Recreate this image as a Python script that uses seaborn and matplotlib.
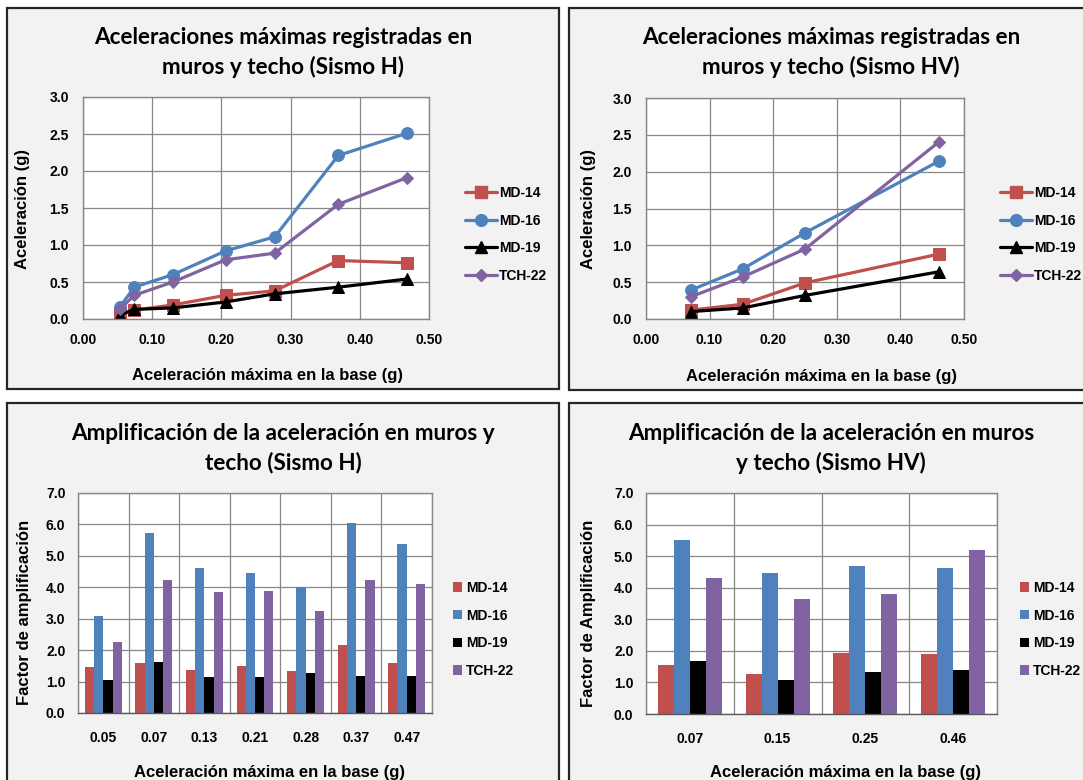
import numpy as np
import pandas as pd
import matplotlib
matplotlib.use('Agg')
import matplotlib.pyplot as plt
from matplotlib.patches import Rectangle
from matplotlib.lines import Line2D
from matplotlib.ticker import FormatStrFormatter, MultipleLocator
import seaborn as sns

# ---------------- data ----------------
series = ['MD-14', 'MD-16', 'MD-19', 'TCH-22']

base_h = [0.053, 0.074, 0.130, 0.206, 0.277, 0.369, 0.468]
acc_h_md14 = [0.07, 0.12, 0.19, 0.32, 0.38, 0.79, 0.76]
acc_h_md16 = [0.16, 0.43, 0.60, 0.92, 1.11, 2.21, 2.51]
acc_h_md19 = [0.05, 0.13, 0.15, 0.23, 0.34, 0.43, 0.54]
acc_h_tch22 = [0.13, 0.32, 0.50, 0.80, 0.89, 1.55, 1.91]

base_hv = [0.070, 0.152, 0.250, 0.460]
acc_hv_md14 = [0.12, 0.20, 0.49, 0.88]
acc_hv_md16 = [0.39, 0.68, 1.17, 2.14]
acc_hv_md19 = [0.10, 0.15, 0.32, 0.64]
acc_hv_tch22 = [0.30, 0.57, 0.95, 2.40]

cats_h = ['0.05', '0.07', '0.13', '0.21', '0.28', '0.37', '0.47']
amp_h_md14 = [1.45, 1.60, 1.37, 1.50, 1.33, 2.16, 1.60]
amp_h_md16 = [3.08, 5.72, 4.61, 4.47, 4.01, 6.03, 5.39]
amp_h_md19 = [1.06, 1.63, 1.13, 1.13, 1.26, 1.18, 1.17]
amp_h_tch22 = [2.26, 4.22, 3.86, 3.89, 3.23, 4.22, 4.09]

cats_hv = ['0.07', '0.15', '0.25', '0.46']
amp_hv_md14 = [1.54, 1.27, 1.93, 1.89]
amp_hv_md16 = [5.51, 4.47, 4.69, 4.64]
amp_hv_md19 = [1.67, 1.08, 1.33, 1.40]
amp_hv_tch22 = [4.30, 3.65, 3.81, 5.21]

# ---------------- style ----------------
colors = {'MD-14': '#C0504D', 'MD-16': '#4F81BD', 'MD-19': '#000000', 'TCH-22': '#8064A2'}
markers = {'MD-14': 's', 'MD-16': 'o', 'MD-19': '^', 'TCH-22': 'D'}
msizes = {'MD-14': 8.5, 'MD-16': 8.5, 'MD-19': 8.5, 'TCH-22': 6.5}

sns.set_theme(style='white')
plt.rcParams['font.family'] = ['Liberation Sans', 'DejaVu Sans']
plt.rcParams['font.weight'] = 'bold'
plt.rcParams['text.color'] = 'black'
plt.rcParams['xtick.color'] = 'black'
plt.rcParams['ytick.color'] = 'black'
plt.rcParams['axes.labelcolor'] = 'black'

W, H = 1083, 780
fig = plt.figure(figsize=(W / 100, H / 100), dpi=100, facecolor='white')

def fx(x):
    return x / W

def fy(y):
    return 1 - y / H

# panel frames
for (x0, y0, x1, y1) in [(7, 8, 559, 389), (569, 8, 1095, 390), (7, 403, 559, 800), (569, 403, 1095, 800)]:
    fig.patches.append(Rectangle((fx(x0), fy(y1)), fx(x1 - x0), (y1 - y0) / H,
                                 transform=fig.transFigure, facecolor='#F2F2F2',
                                 edgecolor='#262626', linewidth=1.6, zorder=-10))

def make_ax(l, r, t, b):
    return fig.add_axes([fx(l), fy(b), fx(r - l), (b - t) / H])

GRID = '#878787'
TITLE_FONT = ['Lato', 'DejaVu Sans']
LBL = 12

def style_axes(ax):
    ax.set_facecolor('white')
    for s in ax.spines.values():
        s.set_color(GRID)
        s.set_linewidth(1.0)
    ax.set_axisbelow(True)
    ax.set_xlabel('')
    ax.set_ylabel('')

def titles(cx, lines, y1):
    for i, t in enumerate(lines):
        fig.text(fx(cx), fy(y1 + 30 * i), t, ha='center', va='center',
                 fontsize=16.2, fontweight='bold', family=TITLE_FONT, color='black')

def line_panel(ax, base, vals):
    for name, v in zip(series, vals):
        sns.lineplot(x=base, y=v, ax=ax, color=colors[name], marker=markers[name],
                     markersize=msizes[name], markeredgecolor=colors[name],
                     linewidth=2.3, legend=False, sort=False)
    style_axes(ax)
    ax.set_xlim(0, 0.5)
    ax.set_ylim(0, 3.0)
    ax.xaxis.set_major_locator(MultipleLocator(0.1))
    ax.yaxis.set_major_locator(MultipleLocator(0.5))
    ax.xaxis.set_major_formatter(FormatStrFormatter('%.2f'))
    ax.yaxis.set_major_formatter(FormatStrFormatter('%.1f'))
    ax.grid(True, color=GRID, linewidth=0.9)
    ax.tick_params(axis='both', length=0, labelsize=10, labelcolor='black')
    ax.tick_params(axis='y', pad=10)
    ax.tick_params(axis='x', pad=10)

def bar_panel(ax, cats, vals):
    df = pd.DataFrame({
        'cat': [c for c in cats for _ in series],
        'serie': [s for _ in cats for s in series],
        'val': [vals[j][i] for i in range(len(cats)) for j in range(len(series))],
    })
    sns.barplot(data=df, x='cat', y='val', hue='serie', order=cats, hue_order=series,
                palette=colors, width=0.73, gap=0, saturation=1, ax=ax, legend=False,
                edgecolor='none', linewidth=0)
    style_axes(ax)
    ax.set_ylim(0, 7.0)
    ax.set_xlim(-0.5, len(cats) - 0.5)
    ax.yaxis.set_major_locator(MultipleLocator(1.0))
    ax.yaxis.set_major_formatter(FormatStrFormatter('%.1f'))
    ax.set_xticks(np.arange(-0.5, len(cats)), minor=True)
    ax.grid(True, which='major', axis='y', color=GRID, linewidth=0.9)
    ax.grid(True, which='minor', axis='x', color=GRID, linewidth=0.9)
    ax.tick_params(axis='both', which='both', length=0, labelsize=10, labelcolor='black')
    ax.tick_params(axis='y', pad=9)
    ax.tick_params(axis='x', pad=13)
    ax.spines['bottom'].set_color('#595959')

def line_legend(ax, x, y):
    handles = [Line2D([0], [0], color=colors[s], marker=markers[s], markersize=msizes[s],
                      markeredgecolor=colors[s], linewidth=2.3) for s in series]
    ax.legend(handles, series, loc='upper left', bbox_to_anchor=(fx(x), fy(y)),
              bbox_transform=fig.transFigure, frameon=False, borderpad=0, borderaxespad=0,
              handlelength=2.3, handletextpad=0.15, labelspacing=0.98, labelcolor='black',
              prop={'weight': 'bold', 'size': 10})

def bar_legend(ax, x, y):
    handles = [Rectangle((0, 0), 1, 1, facecolor=colors[s], edgecolor='none') for s in series]
    ax.legend(handles, series, loc='upper left', bbox_to_anchor=(fx(x), fy(y)),
              bbox_transform=fig.transFigure, frameon=False, borderpad=0, borderaxespad=0,
              handlelength=0.65, handleheight=0.65, handletextpad=0.3, labelspacing=0.98,
              labelcolor='black', prop={'weight': 'bold', 'size': 10})

XL = 'Aceleración máxima en la base (g)'

# top-left
ax1 = make_ax(83, 429, 97, 319)
line_panel(ax1, base_h, [acc_h_md14, acc_h_md16, acc_h_md19, acc_h_tch22])
line_legend(ax1, 465, 186)
titles(283, ['Aceleraciones máximas registradas en', 'muros y techo (Sismo H)'], 37)
fig.text(fx(268), fy(375), XL, ha='center', va='center', fontsize=LBL, fontweight='bold')
fig.text(fx(23), fy(209), 'Aceleración (g)', ha='center', va='center', rotation=90,
         fontsize=LBL, fontweight='bold')

# top-right
ax2 = make_ax(646, 964, 98, 319)
line_panel(ax2, base_hv, [acc_hv_md14, acc_hv_md16, acc_hv_md19, acc_hv_tch22])
line_legend(ax2, 1000, 186)
titles(831, ['Aceleraciones máximas registradas en', 'muros y techo (Sismo HV)'], 37)
fig.text(fx(822), fy(376), XL, ha='center', va='center', fontsize=LBL, fontweight='bold')
fig.text(fx(588), fy(209), 'Aceleración (g)', ha='center', va='center', rotation=90,
         fontsize=LBL, fontweight='bold')

# bottom-left
ax3 = make_ax(78, 432, 493, 713)
bar_panel(ax3, cats_h, [amp_h_md14, amp_h_md16, amp_h_md19, amp_h_tch22])
bar_legend(ax3, 453, 581)
titles(283, ['Amplificación de la aceleración en muros y', 'techo (Sismo H)'], 433)
fig.text(fx(269), fy(772), XL, ha='center', va='center', fontsize=LBL, fontweight='bold')
fig.text(fx(25), fy(612), 'Factor de amplificación', ha='center', va='center', rotation=90,
         fontsize=LBL, fontweight='bold')

# bottom-right
ax4 = make_ax(646, 997, 493, 714)
bar_panel(ax4, cats_hv, [amp_hv_md14, amp_hv_md16, amp_hv_md19, amp_hv_tch22])
bar_legend(ax4, 1020, 581)
titles(831, ['Amplificación de la aceleración en muros', 'y techo (Sismo HV)'], 433)
fig.text(fx(845), fy(772), XL, ha='center', va='center', fontsize=LBL, fontweight='bold')
fig.text(fx(588), fy(613), 'Factor de Amplificación', ha='center', va='center', rotation=90,
         fontsize=LBL, fontweight='bold')

fig.savefig('out.png', dpi=100, facecolor='white')
